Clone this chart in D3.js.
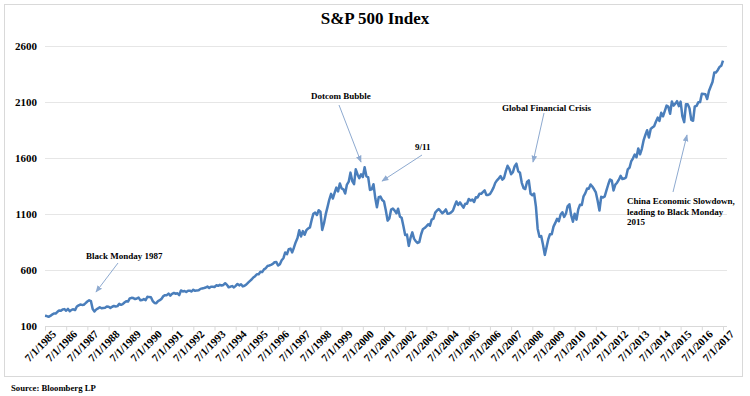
<!DOCTYPE html>
<html>
<head>
<meta charset="utf-8">
<script src="https://cdn.jsdelivr.net/npm/d3@7"></script>
<style>
  body { margin: 0; background: #fff; }
  svg text { font-family: "Liberation Serif", "Times New Roman", serif; font-weight: bold; fill: #000; }
</style>
</head>
<body>
<div id="canvas"></div>
<script>
// monthly closes, Jul 1985 .. Jul 2017
var startMonth = '1985-07-01';
var closes = [
  190.9, 188.6, 182.1, 189.8, 202.2, 211.3,
  211.8, 226.9, 238.9, 235.5, 247.4, 250.8, 236.1, 252.9, 231.3, 244.0, 249.2, 242.2,
  274.1, 284.2, 291.7, 288.4, 290.1, 304.0, 318.7, 329.8, 321.8, 251.8, 230.3, 247.1,
  257.1, 267.8, 258.9, 261.3, 262.2, 273.5, 272.0, 261.5, 271.9, 279.0, 273.7, 277.7,
  297.5, 288.9, 294.9, 309.6, 320.5, 318.0, 346.1, 351.5, 349.2, 340.4, 346.0, 353.4,
  329.1, 331.9, 339.9, 330.8, 361.2, 358.0, 356.2, 322.6, 306.1, 304.0, 322.2, 330.2,
  343.9, 367.1, 375.2, 375.3, 389.8, 371.2, 387.8, 395.4, 387.9, 392.5, 375.2, 417.1,
  408.8, 412.7, 403.7, 415.0, 415.4, 408.1, 424.2, 414.0, 417.8, 418.7, 431.4, 435.7,
  438.8, 443.4, 451.7, 440.2, 450.2, 451.0, 448.1, 463.6, 458.9, 467.8, 461.8, 466.5,
  481.6, 467.1, 445.8, 450.9, 456.5, 444.3, 458.3, 475.5, 462.7, 472.4, 453.7, 459.3,
  470.4, 487.4, 500.7, 514.7, 533.4, 544.8, 562.1, 561.9, 584.4, 581.5, 605.4, 615.9,
  636.0, 640.4, 645.5, 654.2, 669.1, 670.6, 640.0, 652.0, 687.3, 705.3, 757.0, 740.7,
  786.2, 790.8, 757.1, 801.3, 848.3, 885.1, 954.3, 899.5, 947.3, 914.6, 955.4, 970.4,
  980.3, 1049.3, 1101.8, 1111.8, 1090.8, 1133.8, 1120.7, 957.3, 1017.0, 1098.7, 1163.6, 1229.2,
  1279.6, 1238.3, 1286.4, 1335.2, 1301.8, 1372.7, 1328.7, 1320.4, 1282.7, 1362.9, 1388.9, 1469.3,
  1394.5, 1366.4, 1498.6, 1452.4, 1420.6, 1454.6, 1430.8, 1517.7, 1436.5, 1429.4, 1315.0, 1320.3,
  1366.0, 1239.9, 1160.3, 1249.5, 1255.8, 1224.4, 1211.2, 1133.6, 1040.9, 1059.8, 1139.5, 1148.1,
  1130.2, 1106.7, 1147.4, 1076.9, 1067.1, 989.8, 911.6, 916.1, 815.3, 885.8, 936.3, 879.8,
  855.7, 841.2, 848.2, 916.9, 963.6, 974.5, 990.3, 1008.0, 996.0, 1050.7, 1058.2, 1111.9,
  1131.1, 1144.9, 1126.2, 1107.3, 1120.7, 1140.8, 1101.7, 1104.2, 1114.6, 1130.2, 1173.8, 1211.9,
  1181.3, 1203.6, 1180.6, 1156.9, 1191.5, 1191.3, 1234.2, 1220.3, 1228.8, 1207.0, 1249.5, 1248.3,
  1280.1, 1280.7, 1294.9, 1310.6, 1270.1, 1270.2, 1276.7, 1303.8, 1335.9, 1377.9, 1400.6, 1418.3,
  1438.2, 1406.8, 1420.9, 1482.4, 1530.6, 1503.4, 1455.3, 1474.0, 1526.8, 1549.4, 1481.1, 1468.4,
  1378.6, 1330.6, 1322.7, 1385.6, 1400.4, 1280.0, 1267.4, 1282.8, 1166.4, 968.8, 896.2, 903.3,
  825.9, 735.1, 797.9, 872.8, 919.1, 919.3, 987.5, 1020.6, 1057.1, 1036.2, 1095.6, 1115.1,
  1073.9, 1104.5, 1169.4, 1186.7, 1089.4, 1030.7, 1101.6, 1049.3, 1141.2, 1183.3, 1180.6, 1257.6,
  1286.1, 1327.2, 1325.8, 1363.6, 1345.2, 1320.6, 1292.3, 1218.9, 1131.4, 1253.3, 1247.0, 1257.6,
  1312.4, 1365.7, 1408.5, 1397.9, 1310.3, 1362.2, 1379.3, 1406.6, 1440.7, 1412.2, 1416.2, 1426.2,
  1498.1, 1514.7, 1569.2, 1597.6, 1630.7, 1606.3, 1685.7, 1633.0, 1681.6, 1756.5, 1805.8, 1848.4,
  1782.6, 1859.5, 1872.3, 1884.0, 1923.6, 1960.2, 1930.7, 2003.4, 1972.3, 2018.1, 2067.6, 2058.9,
  1995.0, 2104.5, 2067.9, 2085.5, 2107.4, 2063.1, 2103.8, 1972.2, 1920.0, 2079.4, 2080.4, 2043.9,
  1940.2, 1932.2, 2059.7, 2065.3, 2097.0, 2098.9, 2173.6, 2171.0, 2168.3, 2126.2, 2198.8, 2238.8,
  2278.9, 2363.6, 2362.7, 2384.2, 2411.8, 2423.4, 2470.3
];
var tickYears = d3.range(1985, 2018);
var yTicks = [100, 600, 1100, 1600, 2100, 2600];

// annotations: label lines, text position, arrow start and tip
var notes = [
  { lines: ['Black Monday 1987'], tx: 86, ty: 256, from: [118, 263], to: [96, 292] },
  { lines: ['Dotcom Bubble'], tx: 311, ty: 96, from: [339, 105], to: [361, 162] },
  { lines: ['9/11'], tx: 415, ty: 147, from: [422, 155], to: [382, 181] },
  { lines: ['Global Financial Crisis'], tx: 502, ty: 108, from: [544, 113], to: [533, 162] },
  { lines: ['China Economic Slowdown,', 'leading to Black Monday', '2015'], tx: 627, ty: 201, from: [673, 192], to: [687, 135] }
];

var width = 750, height = 396;
var serif = '"Liberation Serif", "Times New Roman", serif';
var parse = d3.timeParse('%Y-%m-%d');
var t0 = parse(startMonth);
var data = closes.map(function(v, i) {
    return { date: d3.timeMonth.offset(t0, i), value: v };
});

var svg = d3.select('#canvas').append('svg')
    .attr('width', width)
    .attr('height', height);

// chart frame
svg.append('rect')
    .attr('x', 4.5).attr('y', 4.5)
    .attr('width', 738).attr('height', 372)
    .attr('fill', '#fff')
    .attr('stroke', '#d9d9d9');

var x = d3.scaleTime()
    .domain([parse('1985-07-01'), parse('2017-07-01')])
    .range([45, 723]);

var y = d3.scaleLinear()
    .domain([100, 2600])
    .range([326, 46]);

// gridlines
svg.append('g')
    .selectAll('line')
    .data(yTicks.slice(1))
    .enter()
    .append('line')
    .attr('x1', 45).attr('x2', 727)
    .attr('y1', function(d) { return y(d) + 0.5; })
    .attr('y2', function(d) { return y(d) + 0.5; })
    .attr('stroke', '#e6e6e6');

// y axis labels
var yAxis = svg.append('g')
    .attr('transform', 'translate(45,0)')
    .call(d3.axisLeft(y).tickValues(yTicks).tickSize(0).tickPadding(8)
        .tickFormat(d3.format('d')))
    .attr('font-family', serif)
    .attr('font-size', 11);
yAxis.select('.domain').remove();

// x axis
var tickDates = tickYears.map(function(yr) { return new Date(yr, 6, 1); });
var xAxis = svg.append('g')
    .attr('transform', 'translate(0,' + (y(100) + 0.5) + ')')
    .call(d3.axisBottom(x)
        .tickValues(tickDates)
        .tickSize(4)
        .tickFormat(d3.timeFormat('%-m/%-d/%Y')))
    .attr('font-family', serif)
    .attr('font-size', 11);
xAxis.select('.domain').attr('stroke', '#d9d9d9').attr('d', 'M45,0H727');
xAxis.selectAll('.tick line').attr('stroke', '#d9d9d9');
xAxis.selectAll('text')
    .attr('text-anchor', 'end')
    .attr('dx', '5px')
    .attr('dy', '4px')
    .attr('transform', 'translate(0,4) rotate(-45)');

// the index line
var line = d3.line()
    .x(function(d) { return x(d.date); })
    .y(function(d) { return y(d.value); });

svg.append('path')
    .datum(data)
    .attr('fill', 'none')
    .attr('stroke', '#4a7ebb')
    .attr('stroke-width', 2.5)
    .attr('stroke-linejoin', 'round')
    .attr('d', line);

// title
svg.append('text')
    .attr('x', 375).attr('y', 24)
    .attr('text-anchor', 'middle')
    .attr('font-size', '17px')
    .text('S&P 500 Index');

// annotations
svg.append('defs').append('marker')
    .attr('id', 'arrow')
    .attr('viewBox', '0 0 10 10')
    .attr('refX', 9).attr('refY', 5)
    .attr('markerWidth', 7).attr('markerHeight', 7)
    .attr('orient', 'auto')
    .append('path')
    .attr('d', 'M0,1L10,5L0,9Z')
    .attr('fill', '#8eaad0');

var note = svg.selectAll('.note')
    .data(notes)
    .enter()
    .append('g')
    .attr('class', 'note');

note.append('line')
    .attr('x1', function(d) { return d.from[0]; })
    .attr('y1', function(d) { return d.from[1]; })
    .attr('x2', function(d) { return d.to[0]; })
    .attr('y2', function(d) { return d.to[1]; })
    .attr('stroke', '#8eaad0')
    .attr('stroke-width', 1)
    .attr('marker-end', 'url(#arrow)');

note.append('text')
    .attr('font-size', '9px')
    .each(function(d) {
        var t = d3.select(this);
        d.lines.forEach(function(s, i) {
            t.append('tspan')
                .attr('x', d.tx)
                .attr('y', d.ty + 3 + i * 10.7)
                .text(s);
        });
    });

// source
svg.append('text')
    .attr('x', 11).attr('y', 391)
    .attr('font-size', '8.7px')
    .text('Source: Bloomberg LP');
</script>
</body>
</html>
